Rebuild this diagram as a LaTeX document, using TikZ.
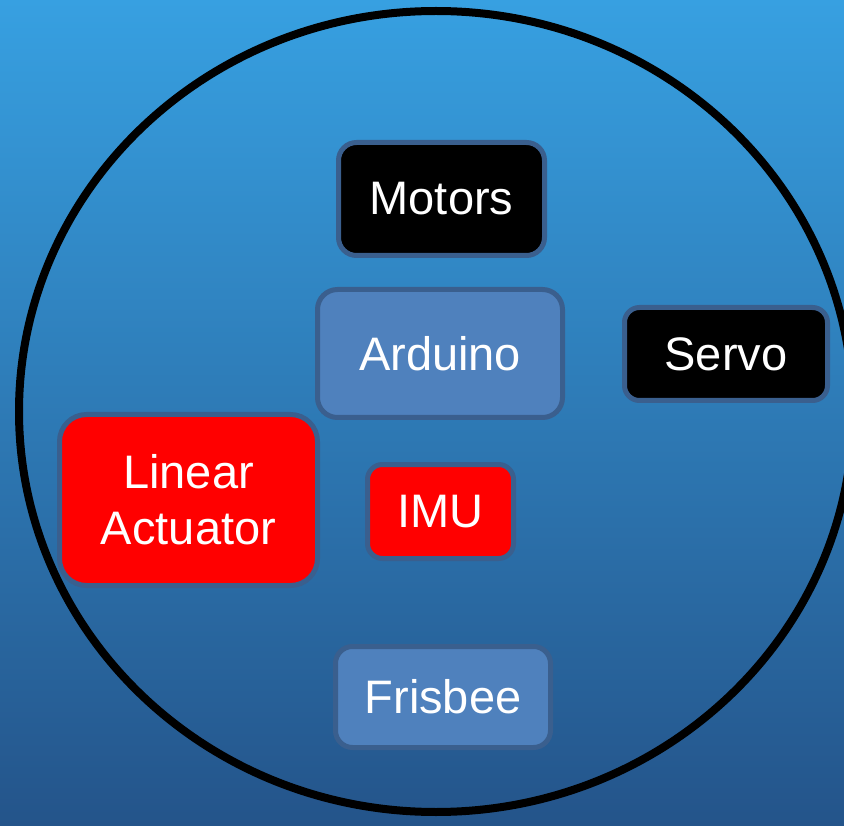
\documentclass[tikz,border=0pt]{standalone}
\usepackage{fontspec}
\setmainfont{Liberation Sans}
\usepackage{tikz}

\definecolor{bgtop}{RGB}{55,160,225}
\definecolor{bgbottom}{RGB}{36,84,138}
\definecolor{rim}{RGB}{58,95,142}
\definecolor{boardblue}{RGB}{79,129,189}

\begin{document}
\begin{tikzpicture}[x=1pt,y=-1pt,
  part/.style={draw=rim, line width=5pt, inner sep=0pt, text=white,
    font=\fontsize{47pt}{56pt}\selectfont, align=center},
  board/.style={part, fill=boardblue},
  actuator/.style={part, fill=red},
  drive/.style={part, fill=black}]

 % Background with vertical blue fade
 \useasboundingbox (0,0) rectangle (844,826);
 \clip (0,0) rectangle (844,826);
 \shade[top color=bgtop, bottom color=bgbottom] (0,0) rectangle (844,826);

 % Outline of the disc
 \draw[line width=8pt] (436,411.5) ellipse [x radius=417, y radius=400.5];

 % Parts on the disc (size = outer size minus line width)
 \node[drive, minimum width=206pt, minimum height=113pt, rounded corners=18pt]
   (motors) at (441.5,199) {Motors};
 \node[board, minimum width=245pt, minimum height=128pt, rounded corners=20pt]
   (arduino) at (440,353.5) {Arduino};
 \node[drive, minimum width=203pt, minimum height=93pt, rounded corners=15pt]
   (servo) at (726,354) {Servo};
 \node[actuator, minimum width=258pt, minimum height=171pt, rounded corners=27pt]
   (linact) at (188.5,500) {Linear\\Actuator};
 \node[actuator, minimum width=146pt, minimum height=94pt, rounded corners=15pt]
   (imu) at (440.5,511.5) {IMU};
 \node[board, minimum width=215pt, minimum height=101pt, rounded corners=17pt]
   (frisbee) at (443,697) {Frisbee};

\end{tikzpicture}
\end{document}
